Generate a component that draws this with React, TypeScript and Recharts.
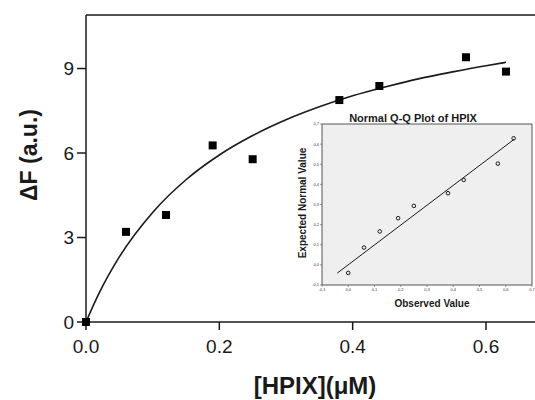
import { ComposedChart, Scatter, Line, XAxis, YAxis, ReferenceArea, ReferenceLine } from 'recharts';

// main binding data: [HPIX] (µM) vs fluorescence change
const hpix = [0, 0.06, 0.12, 0.19, 0.25, 0.38, 0.44, 0.57, 0.63];
const deltaF = [0, 3.2, 3.8, 6.27, 5.78, 7.88, 8.38, 9.4, 8.89];

// fitted saturation curve
const fitX = [0, 0.02, 0.05, 0.1, 0.15, 0.2, 0.25, 0.3, 0.35, 0.4, 0.45, 0.5, 0.55, 0.6, 0.63];
const fitY = [0, 1.04, 2.31, 3.89, 5.05, 5.93, 6.62, 7.18, 7.64, 8.03, 8.35, 8.64, 8.88, 9.1, 9.22];

const xTicks = [0, 0.2, 0.4, 0.6];
const yTicks = [0, 3, 6, 9];

// inset Q-Q plot
const qqObserved = [0, 0.06, 0.12, 0.19, 0.25, 0.38, 0.44, 0.57, 0.63];
const qqExpected = [-0.04, 0.086, 0.166, 0.232, 0.293, 0.356, 0.422, 0.503, 0.629];
const qqLineX = [-0.042, 0.632];
const qqLineY = [-0.041, 0.624];
const qqTicks = [-0.1, 0, 0.1, 0.2, 0.3, 0.4, 0.5, 0.6, 0.7];

const points = hpix.map((x, i) => ({ x, y: deltaF[i] }));
const fit = fitX.map((x, i) => ({ x, y: fitY[i] }));
const qqPoints = qqObserved.map((x, i) => ({ x, y: qqExpected[i] }));
const qqLine = qqLineX.map((x, i) => ({ x, y: qqLineY[i] }));

const FONT = '"Liberation Sans", Arial, sans-serif';
const INK = '#1a1a1a';
const X_MAX = 0.6735;
const Y_MAX = 10.9;

const fmtComma = (v: number) => {
    const s = (Math.abs(v) < 1e-9 ? 0 : v).toFixed(1);
    return s.replace('.', ',');
};

const MainYTitle = () => (
    <text
        x={29}
        y={155}
        transform="rotate(-90 29 155)"
        textAnchor="middle"
        dominantBaseline="central"
        fontFamily={FONT}
        fontWeight="bold"
        fontSize={23}
        fill={INK}
    >
        ΔF (a.u.)
    </text>
);

const MainXTitle = () => (
    <text x={315} y={394} textAnchor="middle" fontFamily={FONT} fontWeight="bold" fontSize={24} fill={INK}>
        [HPIX](μM)
    </text>
);

// bottom title and chart title of the inset, both drawn from the x axis label
const InsetXTitle = () => (
    <g>
        <text x={133} y={17} textAnchor="middle" fontFamily={FONT} fontWeight="bold" fontSize={11} fill={INK}>
            Normal Q-Q Plot of HPIX
        </text>
        <text x={152} y={202} textAnchor="middle" fontFamily={FONT} fontWeight="bold" fontSize={10} fill={INK}>
            Observed Value
        </text>
    </g>
);

const InsetYTitle = () => (
    <text
        x={22}
        y={98}
        transform="rotate(-90 22 98)"
        textAnchor="middle"
        dominantBaseline="central"
        fontFamily={FONT}
        fontWeight="bold"
        fontSize={10}
        fill={INK}
    >
        Expected Normal Value
    </text>
);

const OpenDot = (props: any) => (
    <circle cx={props.cx} cy={props.cy} r={1.8} fill="none" stroke={INK} strokeWidth={1} />
);

const QQInset = () => (
    <ComposedChart width={255} height={210} margin={{ top: 19, right: 3, bottom: 0, left: 30 }}>
        <ReferenceArea x1={-0.1} x2={0.7} y1={-0.1} y2={0.7} fill="#efefef" fillOpacity={1} stroke="#555" strokeWidth={1} />
        <XAxis
            type="number"
            dataKey="x"
            domain={[-0.1, 0.7]}
            ticks={qqTicks}
            interval={0}
            tickFormatter={fmtComma}
            height={30}
            tickSize={2}
            tickMargin={1}
            axisLine={false}
            tickLine={{ stroke: '#555', strokeWidth: 0.6 }}
            tick={{ fill: '#333', fontSize: 4, fontFamily: FONT }}
            label={<InsetXTitle />}
        />
        <YAxis
            type="number"
            dataKey="y"
            domain={[-0.1, 0.7]}
            ticks={qqTicks}
            interval={0}
            tickFormatter={fmtComma}
            width={12}
            tickSize={2}
            tickMargin={1}
            axisLine={false}
            tickLine={{ stroke: '#555', strokeWidth: 0.6 }}
            tick={{ fill: '#333', fontSize: 4, fontFamily: FONT }}
            label={<InsetYTitle />}
        />
        <Line data={qqLine} dataKey="y" type="linear" stroke={INK} strokeWidth={1} dot={false} isAnimationActive={false} />
        <Scatter data={qqPoints} dataKey="y" shape={<OpenDot />} isAnimationActive={false} />
    </ComposedChart>
);

export default function App() {
    return (
        <div style={{ position: 'absolute', left: 0, top: 0, width: 535, height: 400, background: '#fff' }}>
            <ComposedChart width={535} height={400} margin={{ top: 15, right: 0, bottom: 0, left: 0 }}>
                <XAxis
                    type="number"
                    dataKey="x"
                    domain={[0, X_MAX]}
                    ticks={xTicks}
                    interval={0}
                    tickFormatter={(v: number) => v.toFixed(1)}
                    height={78}
                    tickSize={8}
                    tickMargin={10}
                    axisLine={{ stroke: INK, strokeWidth: 1.5 }}
                    tickLine={{ stroke: INK, strokeWidth: 1.5 }}
                    tick={{ fill: INK, fontSize: 19, fontFamily: FONT }}
                    label={<MainXTitle />}
                />
                <YAxis
                    type="number"
                    dataKey="y"
                    domain={[0, Y_MAX]}
                    ticks={yTicks}
                    interval={0}
                    width={86}
                    tickSize={9}
                    tickMargin={3}
                    axisLine={{ stroke: INK, strokeWidth: 1.5 }}
                    tickLine={{ stroke: INK, strokeWidth: 1.5 }}
                    tick={{ fill: INK, fontSize: 19, fontFamily: FONT }}
                    label={<MainYTitle />}
                />
                <ReferenceLine y={Y_MAX} stroke={INK} strokeWidth={1.5} />
                <Line data={fit} dataKey="y" type="monotone" stroke={INK} strokeWidth={1.6} dot={false} isAnimationActive={false} />
                <Scatter data={points} dataKey="y" shape="square" fill="#000" isAnimationActive={false} />
            </ComposedChart>
            <div style={{ position: 'absolute', left: 280, top: 105 }}>
                <QQInset />
            </div>
        </div>
    );
}
